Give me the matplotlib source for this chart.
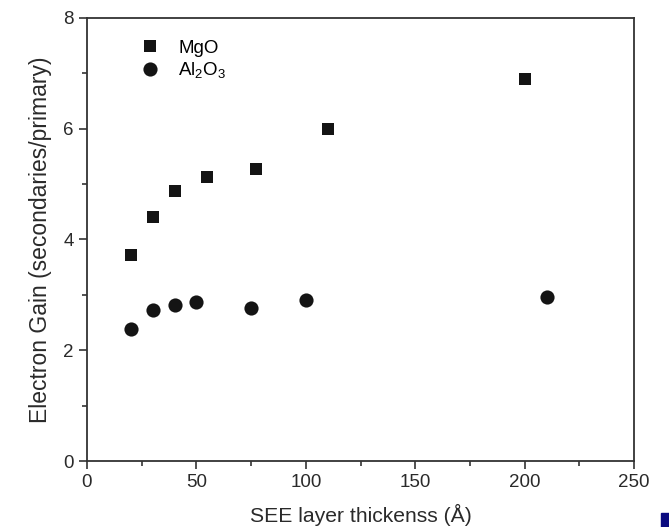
import matplotlib.pyplot as plt
from matplotlib.ticker import MultipleLocator
from matplotlib.patches import Rectangle

plt.rcParams['font.family'] = ['Liberation Sans', 'DejaVu Sans']

# SEE layer thickness (Angstrom) vs electron gain
mgo_thickness = [20, 30, 40, 55, 77, 110, 200]
mgo_gain = [3.72, 4.40, 4.87, 5.12, 5.27, 6.00, 6.89]

al2o3_thickness = [20, 30, 40, 50, 75, 100, 210]
al2o3_gain = [2.39, 2.72, 2.82, 2.87, 2.77, 2.90, 2.96]

x_ticks = [0, 50, 100, 150, 200, 250]
y_ticks = [0, 2, 4, 6, 8]

axis_col = '#333333'
text_col = '#2a2a2a'

fig = plt.figure(figsize=(6.69, 5.27), dpi=100)
ax = fig.add_axes([0.130, 0.1252, 0.818, 0.841])

ax.plot(mgo_thickness, mgo_gain, 's', color='#141414', ms=9.3, mew=0, label='MgO')
ax.plot(al2o3_thickness, al2o3_gain, 'o', color='#141414', ms=10.2, mew=0,
        label=r'$\mathregular{Al_2O_3}$')

ax.set_xlim(0, 250)
ax.set_ylim(0, 8)
ax.set_xticks(x_ticks)
ax.set_yticks(y_ticks)
ax.xaxis.set_minor_locator(MultipleLocator(25))
ax.yaxis.set_minor_locator(MultipleLocator(1))
ax.tick_params(which='both', direction='out', colors=axis_col, labelcolor=text_col,
               labelsize=13.5, top=False, right=False, width=1.2)
ax.tick_params(which='major', length=6)
ax.tick_params(which='minor', length=3.5)
for sp in ax.spines.values():
    sp.set_color(axis_col)
    sp.set_linewidth(1.3)

ax.set_xlabel('SEE layer thickenss (Å)', fontsize=15.2, color=text_col, labelpad=9)
ax.set_ylabel('Electron Gain (secondaries/primary)', fontsize=16.5, color=text_col,
              labelpad=8)

ax.legend(loc='upper left', bbox_to_anchor=(0.067, 0.968), frameon=False,
          fontsize=13.5, handletextpad=0.5, labelspacing=0.2, borderaxespad=0)

# navy corner block
fig.patches.append(Rectangle((661 / 669, 0), 8 / 669, 14 / 527, transform=fig.transFigure,
                             color='#0a0a80', zorder=5))

fig.savefig('out.png', dpi=100)
plt.close(fig)
